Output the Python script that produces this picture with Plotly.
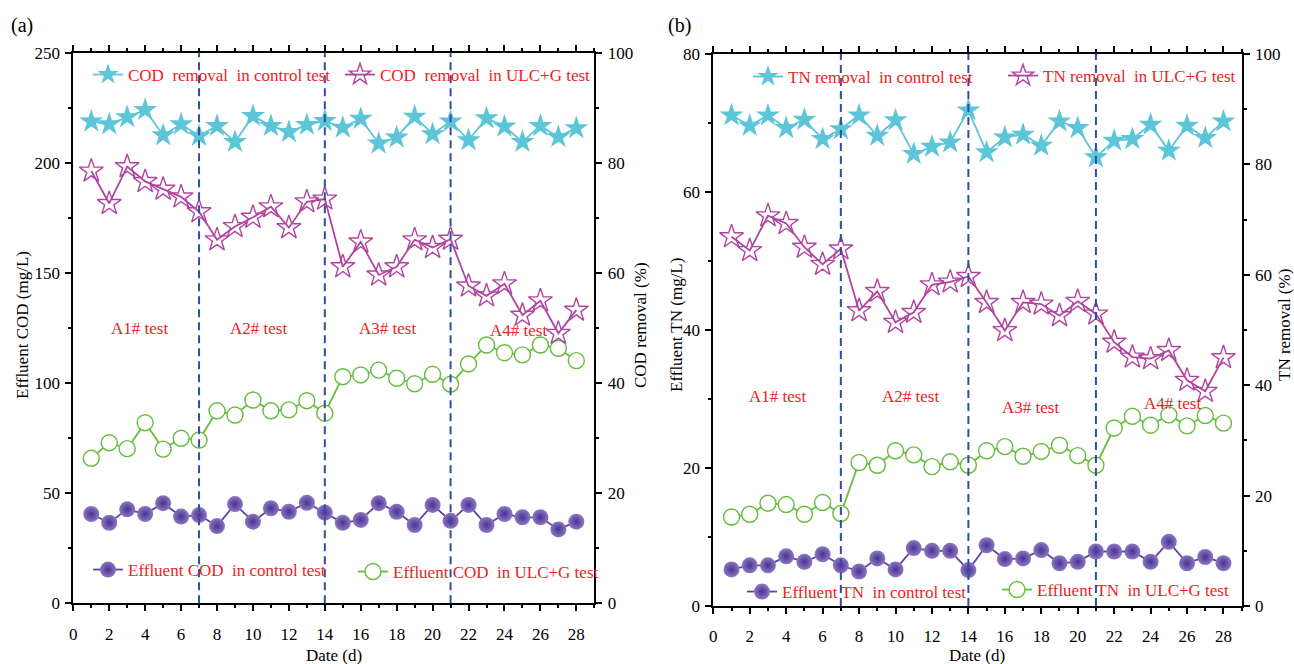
import plotly.graph_objects as go

# ---------------- data ----------------
days = list(range(1, 29))
x_ticks = list(range(0, 29, 2))
phase_bounds = [7, 14, 21]
phase_labels = ["A1# test", "A2# test", "A3# test", "A4# test"]

cod_removal_control = [87.6, 87.1, 88.4, 89.7, 85.1, 87.1, 85.0, 86.8, 83.9, 88.6,
                       86.8, 85.7, 87.0, 87.7, 86.5, 88.1, 83.6, 84.7, 88.5, 85.3,
                       87.6, 84.2, 88.2, 86.7, 83.9, 86.8, 84.8, 86.4]
cod_removal_ulcg = [78.6, 72.7, 79.4, 76.7, 75.3, 73.9, 71.2, 66.1, 68.5, 70.2,
                    72.1, 68.3, 73.0, 73.5, 61.2, 65.7, 59.7, 61.2, 66.1, 64.7,
                    66.2, 57.7, 55.9, 58.1, 52.4, 55.0, 49.1, 53.3]
effluent_cod_control = [40.6, 36.6, 42.7, 40.6, 45.5, 39.4, 40.1, 35.1, 45.1, 37.1,
                        43.2, 41.6, 45.7, 41.2, 36.6, 37.9, 45.5, 41.6, 35.6, 44.7,
                        37.5, 44.7, 35.6, 40.6, 39.1, 39.1, 33.6, 37.1]
effluent_cod_ulcg = [65.9, 73.0, 70.3, 82.1, 70.1, 75.0, 74.2, 87.5, 85.6, 92.4,
                     87.5, 87.9, 92.1, 86.4, 103.0, 103.8, 106.0, 102.3, 99.8, 104.1,
                     99.6, 108.8, 117.4, 113.9, 112.9, 117.4, 115.9, 110.3]

tn_removal_control = [88.9, 87.0, 88.9, 86.6, 88.1, 84.6, 86.4, 88.9, 85.2, 88.0,
                      81.9, 83.2, 84.0, 89.8, 82.2, 84.9, 85.4, 83.4, 87.8, 86.6,
                      81.3, 84.3, 84.6, 87.2, 82.5, 87.0, 84.8, 87.8]
tn_removal_ulcg = [66.9, 64.4, 70.7, 69.3, 65.0, 61.9, 64.7, 53.5, 57.0, 51.4,
                   53.2, 58.2, 58.7, 59.7, 55.0, 49.9, 55.0, 54.7, 52.6, 55.2,
                   52.9, 47.8, 45.1, 44.8, 46.3, 40.9, 38.9, 45.0]
effluent_tn_control = [5.3, 5.9, 5.9, 7.2, 6.4, 7.5, 5.9, 5.0, 6.9, 5.3,
                       8.4, 8.0, 8.0, 5.2, 8.8, 6.8, 6.9, 8.1, 6.2, 6.4,
                       7.9, 7.9, 7.9, 6.4, 9.3, 6.2, 7.1, 6.2]
effluent_tn_ulcg = [12.9, 13.3, 14.9, 14.7, 13.3, 15.0, 13.4, 20.8, 20.4, 22.5,
                    21.9, 20.2, 20.9, 20.4, 22.5, 23.1, 21.7, 22.4, 23.3, 21.8,
                    20.4, 25.8, 27.5, 26.2, 27.7, 26.1, 27.6, 26.5]

# ---------------- styles ----------------
FONT = "Liberation Serif"
RED = "#EE1C25"
CYAN = "#5CC6D8"
MAGENTA = "#B0449F"
GREEN = "#66BD3E"
PURPLE = "#5E449C"
BLUE = "#2E4DA7"

W, H = 1294, 664


def px(x):
    return x / W


def py(y):
    return 1 - y / H


fig = go.Figure()


def star_trace(y, yaxis, xaxis, legend, name):
    return go.Scatter(x=days, y=y, xaxis=xaxis, yaxis=yaxis, legend=legend, name=name,
                      mode="lines+markers",
                      line=dict(color=CYAN, width=1.8),
                      marker=dict(symbol="star", size=18, color=CYAN,
                                  line=dict(width=0)))


def ostar_trace(y, yaxis, xaxis, legend, name):
    return go.Scatter(x=days, y=y, xaxis=xaxis, yaxis=yaxis, legend=legend, name=name,
                      mode="lines+markers",
                      line=dict(color=MAGENTA, width=1.8),
                      marker=dict(symbol="star-open", size=18, color=MAGENTA,
                                  line=dict(width=1.4, color=MAGENTA)))


def sphere_trace(y, yaxis, xaxis, legend, name):
    return go.Scatter(x=days, y=y, xaxis=xaxis, yaxis=yaxis, legend=legend, name=name,
                      mode="lines+markers",
                      line=dict(color=PURPLE, width=1.8),
                      marker=dict(symbol="circle", size=16, color="#8C78C2",
                                  gradient=dict(type="radial", color="#4B3190"),
                                  line=dict(width=0)))


def ocircle_trace(y, yaxis, xaxis, legend, name):
    return go.Scatter(x=days, y=y, xaxis=xaxis, yaxis=yaxis, legend=legend, name=name,
                      mode="lines+markers",
                      line=dict(color=GREEN, width=1.8),
                      marker=dict(symbol="circle", size=16, color="white",
                                  line=dict(width=1.4, color=GREEN)))


# panel (a)
fig.add_trace(star_trace(cod_removal_control, "y2", "x", "legend", "COD  removal  in control test"))
fig.add_trace(ostar_trace(cod_removal_ulcg, "y2", "x", "legend2", "COD  removal  in ULC+G test"))
fig.add_trace(ocircle_trace(effluent_cod_ulcg, "y", "x", "legend4", "Effluent COD  in ULC+G test"))
fig.add_trace(sphere_trace(effluent_cod_control, "y", "x", "legend3", "Effluent COD  in control test"))
# panel (b)
fig.add_trace(star_trace(tn_removal_control, "y4", "x2", "legend5", "TN removal  in control test"))
fig.add_trace(ostar_trace(tn_removal_ulcg, "y4", "x2", "legend6", "TN removal  in ULC+G test"))
fig.add_trace(ocircle_trace(effluent_tn_ulcg, "y3", "x2", "legend8", "Effluent TN  in ULC+G test"))
fig.add_trace(sphere_trace(effluent_tn_control, "y3", "x2", "legend7", "Effluent TN  in control test"))

tickfont = dict(family=FONT, size=17, color="black")
common = dict(showline=True, linecolor="black", linewidth=2, ticks="outside",
              tickwidth=1.5, ticklen=6, tickcolor="black", showgrid=False,
              zeroline=False, tickfont=tickfont, automargin=False)

xa = dict(range=[0, 29], tickvals=x_ticks, mirror="ticks", ticklabelstandoff=8,
          minor=dict(ticks="outside", ticklen=3, dtick=1, tickcolor="black", tickwidth=1.5),
          **common)

# domains
ya_dom = [py(603.3), py(53.3)]
yb_dom = [py(606), py(54)]

fig.update_layout(
    width=W, height=H,
    margin=dict(l=0, r=0, t=0, b=0, pad=0, autoexpand=False),
    paper_bgcolor="white", plot_bgcolor="white",
    xaxis=dict(domain=[px(73.3), px(594.3)], anchor="y", **xa),
    xaxis2=dict(domain=[px(713.3), px(1241.7)], anchor="y3", **xa),
    yaxis=dict(domain=ya_dom, anchor="x", range=[0, 250], dtick=50,
               minor=dict(ticks="outside", ticklen=3, dtick=25, tickcolor="black", tickwidth=1.5),
               ticklabelstandoff=2, **common),
    yaxis2=dict(overlaying="y", side="right", anchor="x", range=[0, 100], dtick=20,
                minor=dict(ticks="outside", ticklen=3, dtick=10, tickcolor="black", tickwidth=1.5),
                ticklabelstandoff=2, **common),
    yaxis3=dict(domain=yb_dom, anchor="x2", range=[0, 80], dtick=20,
                minor=dict(ticks="outside", ticklen=3, dtick=10, tickcolor="black", tickwidth=1.5),
                ticklabelstandoff=2, **common),
    yaxis4=dict(overlaying="y3", side="right", anchor="x2", range=[0, 100], dtick=20,
                minor=dict(ticks="outside", ticklen=3, dtick=10, tickcolor="black", tickwidth=1.5),
                ticklabelstandoff=2, **common),
    showlegend=True,
)

legend_font = dict(family=FONT, size=17, color=RED)
legend_pos = {
    "legend": (88, 75), "legend2": (340, 75), "legend3": (88, 570), "legend4": (353, 572),
    "legend5": (748, 77), "legend6": (1003, 76), "legend7": (742, 592), "legend8": (997, 590),
}
for key, (lx, ly) in legend_pos.items():
    fig.update_layout({key: dict(x=px(lx), y=py(ly), xanchor="left", yanchor="middle",
                                 bgcolor="rgba(0,0,0,0)", borderwidth=0, font=legend_font,
                                 itemwidth=30)})

# dashed phase boundaries
for xref, yref in (("x", "y domain"), ("x2", "y3 domain")):
    for b in phase_bounds:
        fig.add_shape(type="line", xref=xref, yref=yref, x0=b, x1=b, y0=0, y1=1,
                      line=dict(color=BLUE, width=2, dash="8px,5px"), layer="above")

# phase labels
ann_font = dict(family=FONT, size=17, color=RED)
for lab, xx, yy in zip(phase_labels, [3.7, 10.3, 17.5, 24.8], [125, 125, 125, 124]):
    fig.add_annotation(x=xx, y=yy, xref="x", yref="y", text=lab, showarrow=False, font=ann_font)
for lab, xx, yy in zip(phase_labels, [3.5, 10.8, 17.4, 25.2], [30.4, 30.4, 28.8, 29.4]):
    fig.add_annotation(x=xx, y=yy, xref="x2", yref="y3", text=lab, showarrow=False, font=ann_font)

# titles and panel letters
texts = [
    ("(a)", 22, 25, 0, 20),
    ("(b)", 679, 25, 0, 20),
    ("Date (d)", 334, 655, 0, 17),
    ("Date (d)", 977, 655, 0, 17),
    ("Effluent COD (mg/L)", 22, 325, -90, 17),
    ("COD removal (%)", 640, 325, -90, 17),
    ("Effluent TN (mg/L)", 676, 325, -90, 17),
    ("TN removal (%)", 1284, 325, -90, 17),
]
for t, xx, yy, ang, fs in texts:
    fig.add_annotation(x=px(xx), y=py(yy), xref="paper", yref="paper", text=t,
                       showarrow=False, textangle=ang, xanchor="center", yanchor="middle",
                       font=dict(family=FONT, size=fs, color="black"))

fig.write_html("out.html")
